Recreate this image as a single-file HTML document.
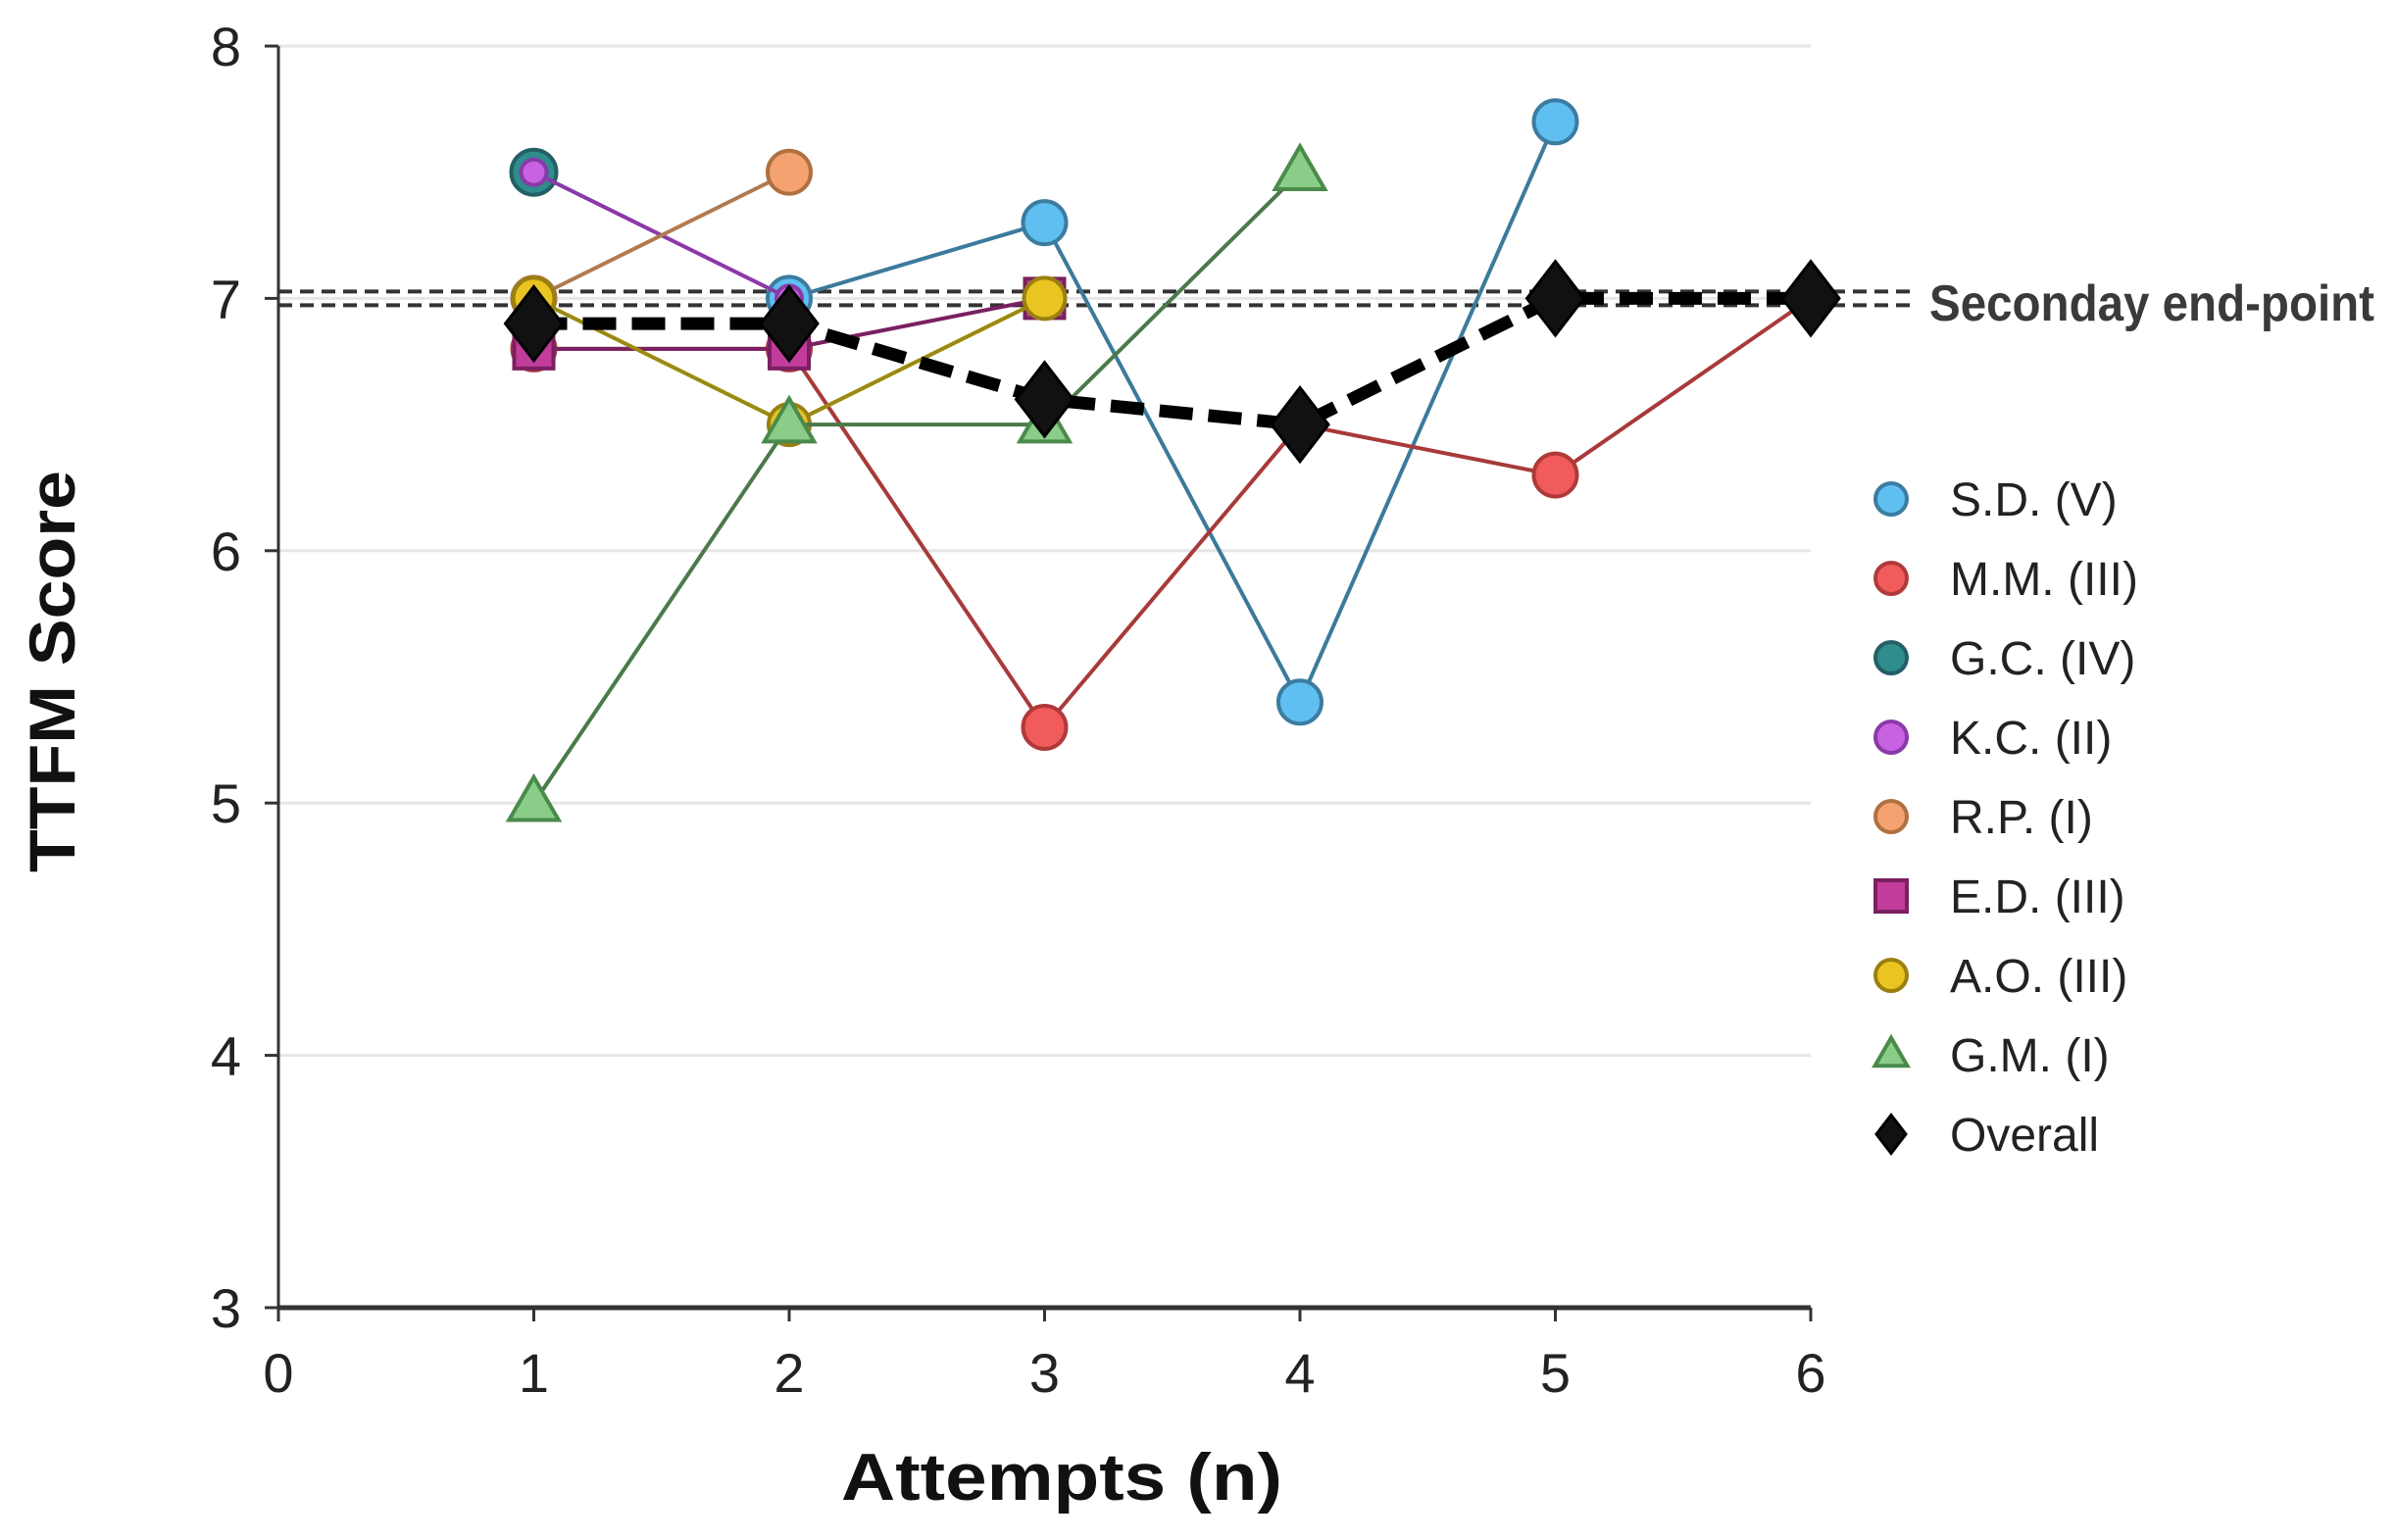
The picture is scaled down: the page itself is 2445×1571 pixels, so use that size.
<!DOCTYPE html>
<html><head><meta charset="utf-8"><style>
html,body{margin:0;padding:0;background:#fff;}
svg{display:block;font-family:"Liberation Sans",sans-serif;}
</style></head><body>
<svg id="chart" width="2445" height="1571" viewBox="0 0 2445 1571" xmlns="http://www.w3.org/2000/svg">
<g id="grid"></g>
<g id="ref"></g>
<g id="axes"></g>
<g id="series"></g>
<g id="legend"></g>
<text x="1083" y="1530" text-anchor="middle" font-size="68" font-weight="bold" fill="#111" textLength="450" lengthAdjust="spacingAndGlyphs">Attempts (n)</text>
<text transform="translate(76,685) rotate(-90)" text-anchor="middle" font-size="66" font-weight="bold" fill="#111" textLength="410" lengthAdjust="spacingAndGlyphs">TTFM Score</text>
<text x="1968" y="327" font-size="52" font-weight="bold" fill="#3a3a3a" textLength="454" lengthAdjust="spacingAndGlyphs">Seconday end-point</text>
</svg>
<script>
const xTicks = [0,1,2,3,4,5,6];
const yTicks = [3,4,5,6,7,8];
const endPoint = 7;
const names = ["S.D. (V)","M.M. (III)","G.C. (IV)","K.C. (II)","R.P. (I)","E.D. (III)","A.O. (III)","G.M. (I)","Overall"];
const sdX = [2,3,4,5];       const sdY = [7.0,7.3,5.4,7.7];
const mmX = [1,2,3,4,5,6];   const mmY = [6.8,6.8,5.3,6.5,6.3,7.0];
const gcX = [1];             const gcY = [7.5];
const kcX = [1,2];           const kcY = [7.5,7.0];
const rpX = [1,2];           const rpY = [7.0,7.5];
const edX = [1,2,3];         const edY = [6.8,6.8,7.0];
const aoX = [1,2,3];         const aoY = [7.0,6.5,7.0];
const gmX = [1,2,3,4];       const gmY = [5.0,6.5,6.5,7.5];
const ovX = [1,2,3,4,5,6];   const ovY = [6.9,6.9,6.6,6.5,7.0,7.0];

const NS="http://www.w3.org/2000/svg";
const X0=284, X1=1847, Y0=1334, Y1=47;
const sx=v=>X0+(v-0)/(6-0)*(X1-X0);
const sy=v=>Y0-(v-3)/(8-3)*(Y0-Y1);
function mk(tag,attrs,parent){const e=document.createElementNS(NS,tag);for(const k in attrs)e.setAttribute(k,attrs[k]);parent.appendChild(e);return e;}
const grid=document.getElementById('grid'),axes=document.getElementById('axes'),ref=document.getElementById('ref'),ser=document.getElementById('series'),leg=document.getElementById('legend');

yTicks.forEach(t=>{
  if(t>3){const l=mk('line',{x1:X0,x2:X1,y1:sy(t),y2:sy(t),stroke:'#e6e6e6','stroke-width':3},grid);
  
  }
  const tk=mk('line',{x1:X0-14,x2:X0,y1:sy(t),y2:sy(t),stroke:'#333','stroke-width':3},axes);
  
  
  const tx=mk('text',{x:X0-38,y:sy(t)+20,'text-anchor':'end','font-size':56,fill:'#222'},axes);tx.textContent=t;
  
  
});
xTicks.forEach(t=>{
  const tk=mk('line',{x1:sx(t),x2:sx(t),y1:Y0,y2:Y0+14,stroke:'#333','stroke-width':3},axes);
  
  
  const tx=mk('text',{x:sx(t),y:Y0+86,'text-anchor':'middle','font-size':56,fill:'#222'},axes);tx.textContent=t;
  
  
});
const ya=mk('line',{x1:X0,x2:X0,y1:Y1,y2:Y0,stroke:'#333','stroke-width':3},axes);


const xa=mk('line',{x1:X0,x2:X1,y1:Y0,y2:Y0,stroke:'#333','stroke-width':5},axes);



[-7,7].forEach((d,i)=>{const l=mk('line',{x1:X0,x2:1950,y1:sy(endPoint)+d,y2:sy(endPoint)+d,stroke:'#333','stroke-width':4,'stroke-dasharray':'14 8'},ref);

});

function marker(shape,cx,cy,r,fill,stroke,parent){
  if(shape==='circle')return mk('circle',{cx,cy,r,fill,stroke,'stroke-width':4},parent);
  if(shape==='square')return mk('rect',{x:cx-r,y:cy-r,width:2*r,height:2*r,fill,stroke,'stroke-width':4},parent);
  if(shape==='triangle')return mk('polygon',{points:`${cx},${cy-r*1.15} ${cx+r*1.1},${cy+r*0.75} ${cx-r*1.1},${cy+r*0.75}`,fill,stroke,'stroke-width':4},parent);
  return mk('polygon',{points:`${cx},${cy-r*1.3} ${cx+r},${cy} ${cx},${cy+r*1.3} ${cx-r},${cy}`,fill,stroke,'stroke-width':3},parent);
}
const defs=[
 {id:'sd',xs:sdX,ys:sdY,shape:'circle',fill:'#5fbff0',stroke:'#3c7ca0',line:'#3c7a9c',r:22},
 {id:'mm',xs:mmX,ys:mmY,shape:'circle',fill:'#f25b5b',stroke:'#b03a3a',line:'#a83a3a',r:22},
 {id:'gc',xs:gcX,ys:gcY,shape:'circle',fill:'#2f8d8d',stroke:'#245f66',line:'#245f66',r:23},
 {id:'kc',xs:kcX,ys:kcY,shape:'circle',fill:'#c862e2',stroke:'#8a3aa8',line:'#8a3aa8',r:13},
 {id:'rp',xs:rpX,ys:rpY,shape:'circle',fill:'#f5a271',stroke:'#b07040',line:'#b07a50',r:22},
 {id:'ed',xs:edX,ys:edY,shape:'square',fill:'#c23c9c',stroke:'#7a2060',line:'#7a2060',r:20},
 {id:'ao',xs:aoX,ys:aoY,shape:'circle',fill:'#e9c422',stroke:'#9a8010',line:'#9a8a10',r:21},
 {id:'gm',xs:gmX,ys:gmY,shape:'triangle',fill:'#8acd88',stroke:'#4a8a4a',line:'#4a7a4a',r:23},
 {id:'overall',xs:ovX,ys:ovY,shape:'diamond',fill:'#111',stroke:'#000',line:'#000',r:29}
];
defs.forEach((d,i)=>{
  const g=mk('g',{},ser);
  
  
  const pts=d.xs.map((x,j)=>sx(x)+','+sy(d.ys[j])).join(' ');
  if(d.xs.length>1){
    const pl=mk('polyline',{points:pts,fill:'none',stroke:d.line,'stroke-width':d.id==='overall'?13:4,'stroke-dasharray':d.id==='overall'?'34 16':'none'},g);
    
    
  }
  d.xs.forEach((x,j)=>{const m=marker(d.shape,sx(x),sy(d.ys[j]),d.r,d.fill,d.stroke,g);
    
    });
  const ly=509+i*81;
  const le=mk('g',{},leg);
  
  
  const lr=d.shape==='diamond'?15:(d.shape==='triangle'?15:16);
  marker(d.shape,1929,ly,lr,d.fill,d.stroke,le);
  const t=mk('text',{x:1989,y:ly+17,'font-size':48,fill:'#222'},le);t.textContent=names[i];
});
</script>
</body></html>
